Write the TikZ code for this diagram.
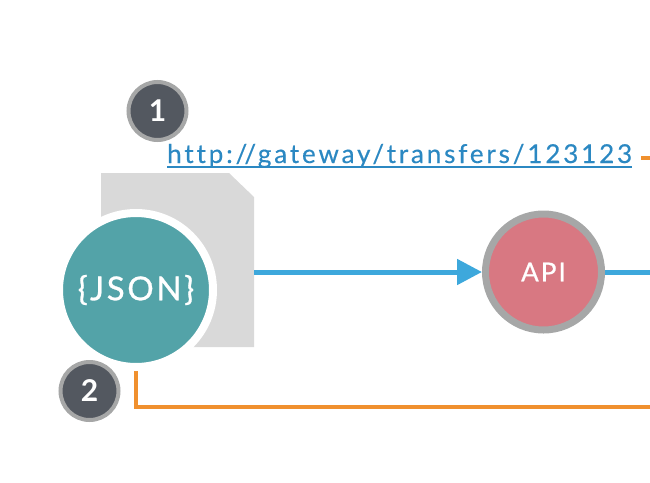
\documentclass[tikz,border=0pt]{standalone}
\usepackage{fontspec}
\setmainfont{Lato}
\newfontfamily\urlfont[LetterSpace=11,Ligatures=NoCommon,FakeBold=0.4]{Lato}
\newfontfamily\jsonfont[LetterSpace=8,Ligatures=NoCommon,FakeBold=0.8]{Lato}
\newfontfamily\apifont[LetterSpace=8,FakeBold=0.8]{Lato}
\usetikzlibrary{arrows.meta,backgrounds}
\definecolor{teal}{HTML}{53A3A8}
\definecolor{pinkapi}{HTML}{D87882}
\definecolor{ringgray}{HTML}{A6A7A7}
\definecolor{darkbadge}{HTML}{535860}
\definecolor{flowblue}{HTML}{3DA8DC}
\definecolor{flowor}{HTML}{F0902E}
\definecolor{docgray}{HTML}{D9D9D9}
\definecolor{urlblue}{HTML}{2B88C2}
\tikzset{
  badge/.style={circle, fill=darkbadge, draw=ringgray, line width=4pt, minimum size=58pt, inner sep=0pt, text=white, font=\bfseries\fontsize{30}{30}\selectfont},
  jsonnode/.style={circle, fill=teal, draw=white, line width=8pt, minimum size=154pt, inner sep=0pt, text=white, font=\jsonfont\fontsize{33}{33}\selectfont},
  apinode/.style={circle, fill=pinkapi, draw=ringgray, line width=7pt, minimum size=116pt, inner sep=0pt, text=white, font=\apifont\fontsize{26}{26}\selectfont},
  blueflow/.style={draw=flowblue, line width=5pt},
  orflow/.style={draw=flowor, line width=4pt},
}
\begin{document}
\begin{tikzpicture}[x=1pt,y=-1pt]
\useasboundingbox (0,0) rectangle (650,482);
% document shape
\fill[docgray] (101,173) -- (229,173) -- (254,197) -- (254,347) -- (101,347) -- cycle;
\coordinate (docR) at (254,272);
\coordinate (blueEnd) at (650,272);
\coordinate (orEnd) at (650,407);
\coordinate (orDashA) at (641,158);
\coordinate (orDashB) at (650,158);
\node[jsonnode] (json) at (136,290) {\{JSON\}};
\node[apinode] (api) at (543.5,272) {API};
\node[badge] (b1) at (157.5,111) {1};
\node[badge] (b2) at (89.5,391) {2};
\node[anchor=base west, text=urlblue, inner sep=0pt, font=\urlfont\fontsize{26}{26}\selectfont] (url) at (167,163) {http://gateway/transfers/123123};
\draw[urlblue, line width=1.5pt] ([yshift=-4pt]url.base west) -- ([yshift=-4pt]url.base east);
\draw[blueflow, -{Triangle[length=25pt,width=25pt]}] (docR) -- (api.west);
\draw[blueflow] (api.east) -- (blueEnd);
\draw[orflow] (orDashA) -- (orDashB);
\begin{scope}[on background layer]
\draw[orflow] (json.center) |- (orEnd);
\end{scope}
\end{tikzpicture}
\end{document}
